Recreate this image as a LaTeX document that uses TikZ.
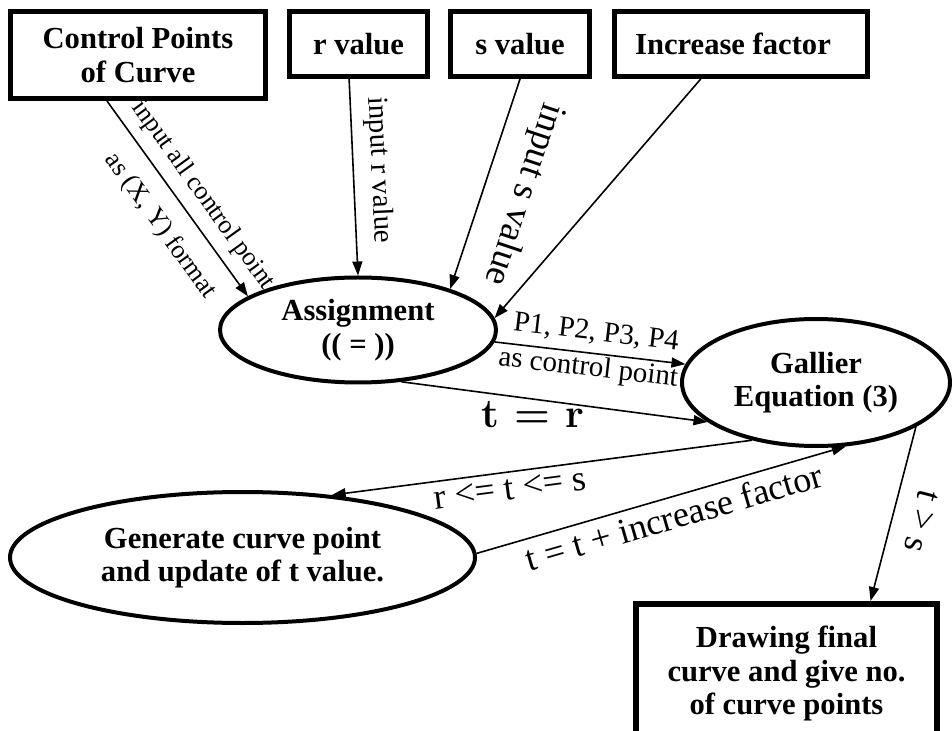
\documentclass[tikz,border=0pt]{standalone}
\usepackage{fontspec}
\setmainfont{Liberation Serif}
\usetikzlibrary{shapes.geometric}
\usetikzlibrary{arrows.meta}

\tikzset{
 box/.style={draw,line width=2.5pt,inner sep=0pt,align=center,font=\fontsize{15.3}{16.8}\selectfont\bfseries},
 oval/.style={draw,ellipse,line width=2pt,inner sep=0pt,align=center,font=\fontsize{15.3}{16.8}\selectfont\bfseries},
 flow/.style={line width=0.8pt,-{Triangle[length=7pt,width=5pt]}},
 lbl/.style={font=\fontsize{#1}{#1}\selectfont,inner sep=0pt},
 eqlbl/.style={font=\fontsize{20.5}{24}\fontfamily{lmr}\fontseries{bx}\selectfont,inner sep=0pt}
}

\begin{document}
\begin{tikzpicture}[x=0.5pt,y=-0.5pt]
 \useasboundingbox (0,0) rectangle (952,731);
 \node[box,minimum width=127.5pt,minimum height=43.5pt] (cp) at (138,55) {Control Points\\of Curve};
 \node[box,minimum width=69pt,minimum height=32.5pt] (rval) at (358.5,44) {r value};
 \node[box,minimum width=69.5pt,minimum height=32.5pt] (sval) at (520,44) {s value};
 \node[box,minimum width=126.5pt,minimum height=32.5pt] (incr) at (741,44) {Increase factor\hspace*{8pt}};
 \node[oval,minimum width=138pt,minimum height=52.5pt] (assign) at (358,330) {Assignment\\(( = ))};
 \node[oval,minimum width=134pt,minimum height=63.5pt] (gall) at (816,382.5) {Gallier\\Equation (3)};
 \node[oval,minimum width=232.5pt,minimum height=65.5pt] (gen) at (242.5,557.5) {Generate curve point\\and update of t value.};
 \node[box,line width=3pt,anchor=north,minimum width=150.5pt,inner ysep=11pt] (fin) at (786.5,601) {Drawing final\\curve and give no.\\of curve points\rule[-14pt]{0pt}{14pt}};
 \draw[flow] (cp.-124) -- (assign.163)
  node[lbl=13,sloped,above=5pt,pos=0.55] {input all control point}
  node[lbl=13,sloped,below=8.5pt,pos=0.55] {as (X, Y) format};
 \draw[flow] (rval.-105) -- (assign.north)
  node[lbl=14.5,sloped,above=6pt,pos=0.47] {input r value};
 \draw[flow] (sval.south) -- (assign.24)
  node[lbl=18.5,sloped,allow upside down,above=11pt,pos=0.49] {input s value};
 \draw[flow] (incr.-139.5) -- (assign.5);
 \draw[flow] (assign.-5) -- (gall.172)
  node[lbl=14.5,sloped,above=4pt,pos=0.52] {P1, P2, P3, P4}
  node[lbl=14.5,sloped,below=1pt,pos=0.5] {as control point};
 \draw[flow] (assign.-50) -- (gall.200)
  node[eqlbl,below=1pt,pos=0.43] {t = r};
 \draw[flow] (gall.222) -- (gen.35)
  node[lbl=18,sloped,below=3pt,pos=0.58] {r <= t <= s};
 \draw[flow] (gen.1) -- (gall.-65)
  node[lbl=18,sloped,below=3pt,pos=0.52] {t = t + increase factor};
 \draw[flow] (gall.-24) -- ([xshift=42pt]fin.north)
  node[lbl=18,sloped,allow upside down,above=9pt,pos=0.5] {t > s};
\end{tikzpicture}
\end{document}
